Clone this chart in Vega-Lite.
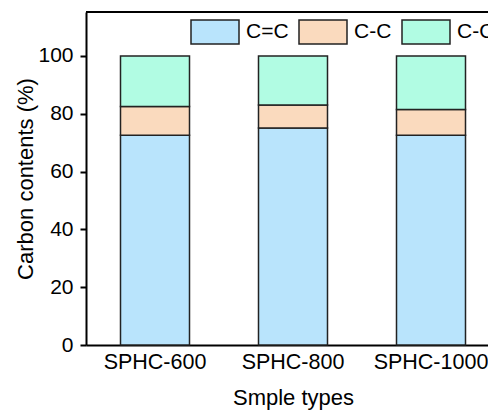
{
  "$schema": "https://vega.github.io/schema/vega-lite/v6.json",
  "width": 402,
  "height": 333,
  "autosize": "none",
  "padding": {"left": 86, "top": 12, "right": 0, "bottom": 67},
  "background": "white",
  "config": {
    "view": {"stroke": null},
    "font": "Liberation Sans",
    "axis": {"labelFont": "Liberation Sans", "titleFont": "Liberation Sans", "labelFontSize": 21, "titleFontSize": 22, "titleFontWeight": "normal", "labelColor": "black", "titleColor": "black", "domainColor": "black", "domainWidth": 2, "tickColor": "black", "tickWidth": 2, "grid": false},
    "legend": {"labelFont": "Liberation Sans", "labelFontSize": 21, "labelColor": "black"}
  },
  "data": {
    "values": [
      {"sample": "SPHC-600", "type": "C=C", "k": 1, "value": 72.6},
      {"sample": "SPHC-600", "type": "C-C", "k": 2, "value": 9.9},
      {"sample": "SPHC-600", "type": "C-O", "k": 3, "value": 17.5},
      {"sample": "SPHC-800", "type": "C=C", "k": 1, "value": 75.1},
      {"sample": "SPHC-800", "type": "C-C", "k": 2, "value": 7.9},
      {"sample": "SPHC-800", "type": "C-O", "k": 3, "value": 17.0},
      {"sample": "SPHC-1000", "type": "C=C", "k": 1, "value": 72.6},
      {"sample": "SPHC-1000", "type": "C-C", "k": 2, "value": 8.9},
      {"sample": "SPHC-1000", "type": "C-O", "k": 3, "value": 18.5}
    ]
  },
  "layer": [
    {
      "mark": {"type": "bar", "stroke": "#222222", "strokeWidth": 1.5},
      "encoding": {
        "x": {
          "field": "sample",
          "type": "nominal",
          "sort": ["SPHC-600", "SPHC-800", "SPHC-1000"],
          "scale": {"range": [0, 414], "paddingInner": 0.5, "paddingOuter": 0.25},
          "axis": {"title": "Smple types", "ticks": false, "labelAngle": 0, "labelPadding": 6, "labelFontSize": 21.5, "titlePadding": 15}
        },
        "y": {
          "field": "value",
          "type": "quantitative",
          "stack": "zero",
          "scale": {"domain": [0, 115.2], "nice": false, "zero": true},
          "axis": {
            "title": "Carbon contents (%)",
            "values": [0, 10, 20, 30, 40, 50, 60, 70, 80, 90, 100, 110],
            "labelExpr": "datum.value % 20 === 0 ? datum.label : ''",
            "tickSize": {"condition": {"test": "datum.value % 20 === 0", "value": 6}, "value": 3},
            "labelPadding": 7,
            "titlePadding": 0
          }
        },
        "color": {
          "field": "type",
          "type": "nominal",
          "scale": {"domain": ["C=C", "C-C", "C-O"], "range": ["#B9E4FC", "#FADABE", "#B1FCE3"]},
          "legend": {
            "title": null,
            "orient": "none",
            "direction": "horizontal",
            "legendX": 104,
            "legendY": -5,
            "symbolType": "M-1,-0.5H1V0.5H-1Z",
            "symbolSize": 2304,
            "symbolStrokeColor": "#222222",
            "symbolStrokeWidth": 1.5,
            "symbolOpacity": 1,
            "labelOffset": 6,
            "columnPadding": 7,
            "padding": 0
          }
        },
        "order": {"field": "k", "type": "quantitative"}
      }
    },
    {
      "mark": {"type": "rule", "color": "black", "strokeWidth": 2},
      "encoding": {"y": {"datum": 115.2}}
    }
  ]
}
